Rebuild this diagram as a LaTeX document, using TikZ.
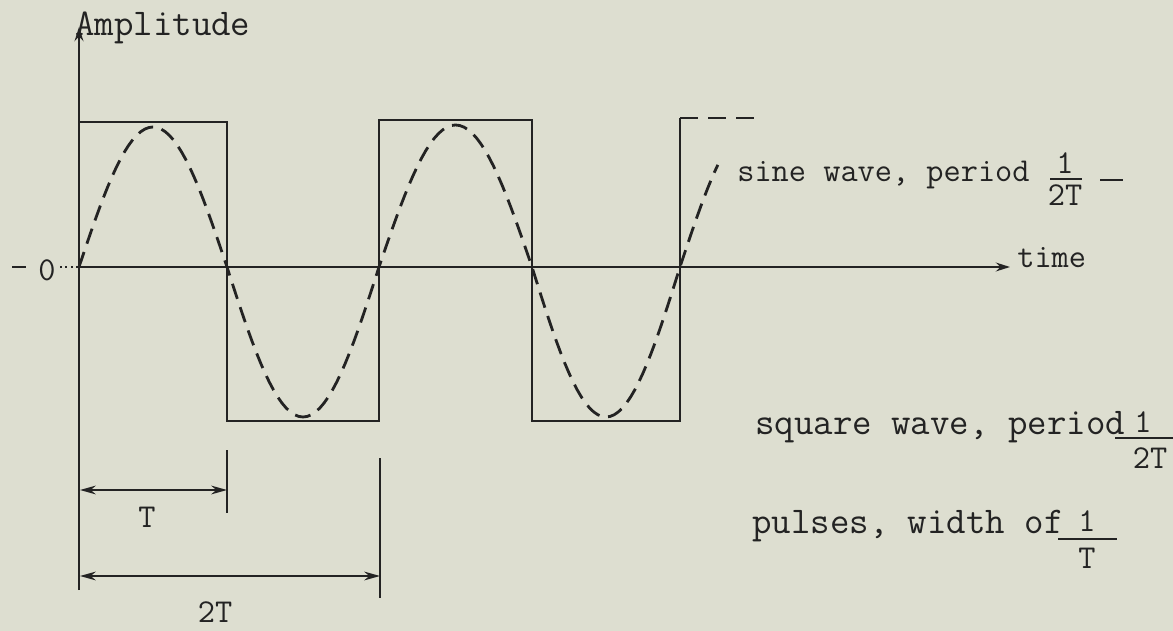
\documentclass[tikz,border=0pt]{standalone}
\usetikzlibrary{arrows.meta}
\definecolor{paper}{RGB}{221,222,208}
\definecolor{ink}{RGB}{35,35,35}
\begin{document}
\begin{tikzpicture}[x=0.02cm,y=-0.02cm,
  inkline/.style={draw=ink,line width=1.5pt},
  wave/.style={draw=ink,line width=1.6pt,dash pattern=on 9pt off 5pt},
  thinline/.style={draw=ink,line width=1.1pt},
  lbl/.style={text=ink,font=\fontsize{21.5}{23}\selectfont\ttfamily,inner sep=0pt},
  smlbl/.style={text=ink,font=\fontsize{19}{21}\selectfont\ttfamily,inner sep=0pt},
  tip/.style={-{Stealth[length=8pt,width=5pt]}},
  dimarrow/.style={{Stealth[length=9pt,width=5pt]}-{Stealth[length=9pt,width=5pt]}},
]
\fill[paper] (0,0) rectangle (1173,631);
\useasboundingbox (0,0) rectangle (1173,631);

% axes
\coordinate (O) at (79,267);
\coordinate (ytop) at (79,27);
\coordinate (ybot) at (79,590);
\coordinate (xend) at (1010,267);
\draw[inkline,tip] (ybot) -- (ytop);
\draw[inkline,tip] (O) -- (xend);
\draw[thinline,dotted] (60,267) -- (O);
\draw[thinline] (12,267) -- (26,267);
\node[smlbl] (zero) at (47,270) {0};
\node[lbl,anchor=base west] (amp) at (75,36) {Amplitude};
\node[smlbl,anchor=base west] (time) at (1017,268) {time};

% square wave
\draw[inkline] (O) -- (79,122) -- (227,122) -- (227,421) -- (379,421) -- (379,120)
  -- (532,120) -- (532,421) -- (680,421) -- (680,118);
\draw[inkline,dash pattern=on 10pt off 6pt] (680,118) -- (760,118);

% sine wave
\draw[wave] (O)
  -- plot[domain=0:180,samples=37] ({79+\x/180*148},{267-140*sin(\x)})
  -- plot[domain=0:180,samples=37] ({227+\x/180*152},{267+150*sin(\x)})
  -- plot[domain=0:180,samples=37] ({379+\x/180*153},{267-142*sin(\x)})
  -- plot[domain=0:180,samples=37] ({532+\x/180*148},{267+150*sin(\x)})
  -- plot[domain=0:46,samples=12] ({680+\x/180*148},{267-142*sin(\x)});

% dimension lines
\coordinate (d1a) at (80,490);
\coordinate (d1b) at (227,490);
\coordinate (d2a) at (80,576);
\coordinate (d2b) at (380,576);
\draw[thinline] (227,450) -- (227,513);
\draw[thinline] (380,458) -- (380,598);
\draw[thinline,dimarrow] (d1a) -- (d1b);
\draw[thinline,dimarrow] (d2a) -- (d2b);
\node[smlbl] (T) at (147,517) {T};
\node[smlbl] (twoT) at (215,612) {2T};

% labels
\node[smlbl,anchor=base west] (sine) at (737,182) {sine wave, period};
\node[smlbl] (s1) at (1065,163) {1};
\draw[thinline] (1050,179) -- (1082,179);
\node[smlbl] (s2) at (1065,195) {2T};
\draw[thinline] (1100,180) -- (1123,180);

\node[lbl,anchor=base west] (square) at (755,435) {square wave, period};
\node[smlbl] (q1) at (1143,422) {1};
\draw[thinline] (1115,438) -- (1173,438);
\node[smlbl] (q2) at (1150,458) {2T};

\node[lbl,anchor=base west] (pulses) at (752,533) {pulses, width of};
\node[smlbl] (p1) at (1087,521) {1};
\draw[thinline] (1058,539) -- (1117,539);
\node[smlbl] (p2) at (1087,558) {T};
\end{tikzpicture}
\end{document}
